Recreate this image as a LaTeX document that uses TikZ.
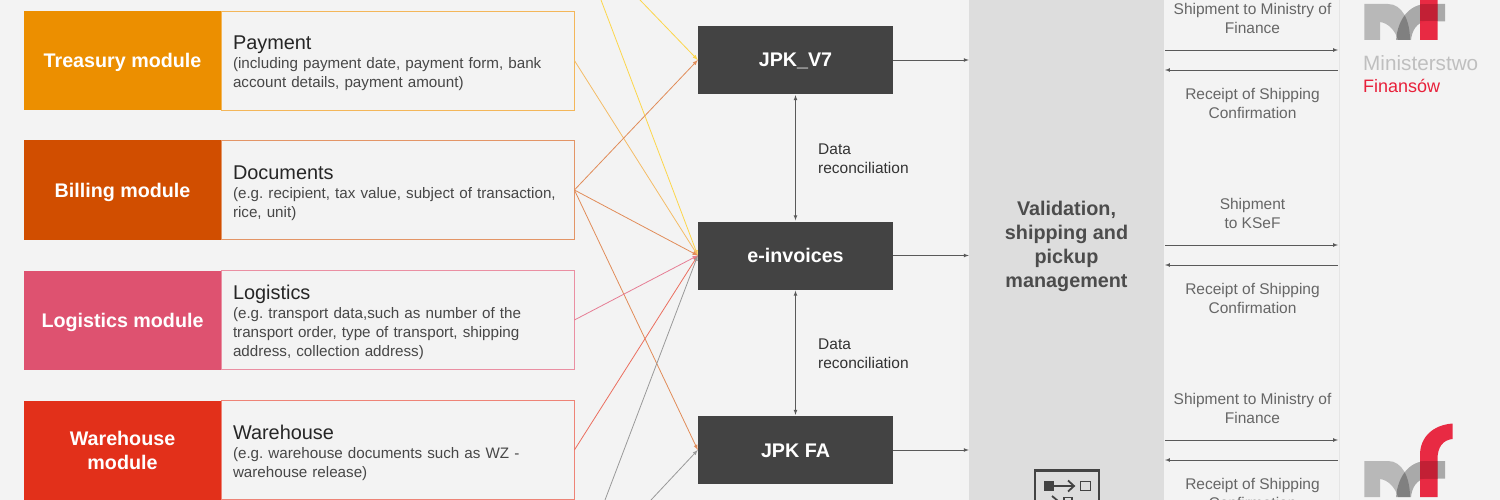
\documentclass[tikz,border=0pt]{standalone}
\usepackage{fontspec}
\setmainfont{Liberation Sans}
\definecolor{pagebg}{HTML}{F3F3F3}
\definecolor{treasurycol}{HTML}{EC8F00}
\definecolor{billingcol}{HTML}{D14E00}
\definecolor{logisticscol}{HTML}{DE5270}
\definecolor{warehousecol}{HTML}{E2301A}
\definecolor{jpkcol}{HTML}{434343}
\definecolor{validcol}{HTML}{DDDDDD}
\definecolor{mfred}{HTML}{E8203A}
\newcommand{\headfont}{\fontsize{19.9}{23}\selectfont\color{black!85}}
\tikzset{
  modbox/.style={minimum width=197pt,minimum height=99pt,inner sep=0pt,align=center,text=white,
    font=\fontsize{19.7}{24}\selectfont\bfseries},
  singleline/.style={text height=14pt,text depth=0pt},
  detbox/.style={minimum width=353pt,minimum height=99pt,inner sep=0pt,line width=0.8pt},
  dettext/.style={text width=329pt,inner sep=0pt,align=left,text=black!72,
    font=\fontsize{15.2}{19}\selectfont\frenchspacing},
  jpkbox/.style={fill=jpkcol,minimum width=195pt,minimum height=68pt,inner sep=0pt,text=white,
    font=\fontsize{19.7}{23}\selectfont\bfseries,singleline},
  sidetext/.style={align=center,text=black!60,inner sep=0pt,font=\fontsize{15.5}{19}\selectfont},
  recon/.style={align=left,anchor=west,inner sep=0pt,text=black!80,font=\fontsize{15.5}{19}\selectfont},
  feed/.style={line width=0.8pt,-latex},
  thinarrow/.style={line width=0.7pt,color=black!65,-latex},
}
\newcommand{\mflogo}[2]{%
  \begin{scope}[shift={(#1,#2)}]
    \fill[black,fill opacity=0.24] (9.3,46) -- (33,46) .. controls (47,46) and (55,62) .. (55,82) -- (43,82)
       .. controls (40,72) and (33,65) .. (25,64) -- (25,82) -- (9.3,82) -- cycle;
    \fill[black,fill opacity=0.3] (41,82) .. controls (43,60) and (55,46) .. (72,46) -- (90,46) -- (90,63.5) -- (70,63.5)
       .. controls (62,65) and (57,72) .. (56,82) -- cycle;
    \fill[mfred,fill opacity=0.95] (65,82) -- (65,40) .. controls (65,22) and (78,10) .. (97.5,8.5) -- (97.5,24)
       .. controls (88,25) and (82.5,32) .. (82.5,44) -- (82.5,82) -- cycle;
    \fill[black,fill opacity=0.15] (65,46) rectangle (82.5,63.5);
  \end{scope}}
\begin{document}
\begin{tikzpicture}[x=1pt,y=-1pt]
    \clip (0,0) rectangle (1500,500);
    \fill[pagebg] (0,0) rectangle (1500,500);
    \node[fill=validcol,minimum width=195pt,minimum height=530pt,inner sep=0pt] (validcolumn) at (1066.5,244) {};
    \node[align=center,inner sep=0pt,text=black!70,font=\fontsize{19.8}{24}\selectfont\bfseries] (validtext) at (1066.5,246)
       {Validation,\\shipping and\\pickup\\management};
    \draw[black!10,line width=0.7pt] (1339,0)--(1339,500);
    % left column
    \node[modbox,singleline,fill=treasurycol] (treasury) at (122.5,60.5) {Treasury module};
    \node[modbox,singleline,fill=billingcol] (billing) at (122.5,190) {Billing module};
    \node[modbox,singleline,fill=logisticscol] (logistics) at (122.5,320) {Logistics module};
    \node[modbox,fill=warehousecol,minimum height=100pt] (warehouse) at (122.5,450.5) {Warehouse\\module};
    \node[detbox,draw=treasurycol!65] (treasurybox) at (397.5,60.5) {};
    \node[detbox,draw=billingcol!60] (billingbox) at (397.5,190) {};
    \node[detbox,draw=logisticscol!65] (logisticsbox) at (397.5,320) {};
    \node[detbox,draw=warehousecol!60] (warehousebox) at (397.5,450) {};
    \node[dettext] (treasurytext) at ([yshift=-3pt]treasurybox.center)
       {{\headfont Payment}\\(including payment date, payment form, bank\\account details, payment amount)};
    \node[dettext] (billingtext) at ([yshift=-3pt]billingbox.center)
       {{\headfont Documents}\\(e.g. recipient, tax value, subject of transaction,\\rice, unit)};
    \node[dettext] (logisticstext) at ([yshift=-2pt]logisticsbox.center)
       {{\headfont Logistics}\\(e.g. transport data,such as number of the\\transport order, type of transport, shipping\\address, collection address)};
    \node[dettext] (warehousetext) at ([yshift=-3pt]warehousebox.center)
       {{\headfont Warehouse}\\(e.g. warehouse documents such as WZ -\\warehouse release)};
    % middle column
    \node[jpkbox] (jpkv) at (795.5,60) {JPK\_V7};
    \node[jpkbox] (einv) at (795.5,255.5) {e-invoices};
    \node[jpkbox] (jpkfa) at (795.5,450) {JPK FA};
    \coordinate (topa) at (601,0);
    \coordinate (topb) at (640,0);
    \coordinate (bota) at (605,500);
    \coordinate (botb) at (651,500);
    \draw[feed,color=yellow!60!orange!70] (topa)--(einv.west);
    \draw[feed,color=yellow!60!orange!70] (topb)--(jpkv.west);
    \draw[feed,color=treasurycol!60] (treasurybox.east)--(einv.west);
    \draw[feed,color=billingcol!65] (billingbox.east)--(jpkv.west);
    \draw[feed,color=billingcol!65] (billingbox.east)--(einv.west);
    \draw[feed,color=billingcol!65] (billingbox.east)--(jpkfa.west);
    \draw[feed,color=logisticscol!75] (logisticsbox.east)--(einv.west);
    \draw[feed,color=warehousecol!70] (warehousebox.east)--(einv.west);
    \draw[feed,color=black!40] (bota)--(einv.west);
    \draw[feed,color=black!40] (botb)--(jpkfa.west);
    \draw[thinarrow,latex-latex,shorten <=1pt,shorten >=1pt] (jpkv.south)--(einv.north);
    \draw[thinarrow,latex-latex,shorten <=1pt,shorten >=1pt] (einv.south)--(jpkfa.north);
    \node[recon] (reconup) at (818,158.5) {Data\\reconciliation};
    \node[recon] (recondown) at (818,353.5) {Data\\reconciliation};
    \draw[thinarrow] (jpkv.east)--(jpkv.east -| validcolumn.west);
    \draw[thinarrow] (einv.east)--(einv.east -| validcolumn.west);
    \draw[thinarrow] (jpkfa.east)--(jpkfa.east -| validcolumn.west);
    % right panel
    \foreach \n/\dy/\sendtext in {a/0/Shipment to Ministry of\\Finance,b/195/Shipment\\to KSeF,c/390/Shipment to Ministry of\\Finance}{
      \begin{scope}[yshift=-\dy pt]
        \node[sidetext] (send\n) at (1252.5,18.5) {\sendtext};
        \node[sidetext] (receipt\n) at (1252.5,103.5) {Receipt of Shipping\\Confirmation};
        \coordinate (sendl\n) at (1165,50);
        \coordinate (sendr\n) at (1338,50);
        \coordinate (backr\n) at (1338,70);
        \coordinate (backl\n) at (1165,70);
        \draw[thinarrow] (sendl\n)--(sendr\n);
        \draw[thinarrow] (backr\n)--(backl\n);
      \end{scope}
    }
    % logos
    \mflogo{1355}{-42}
    \mflogo{1355}{415}
    \node[anchor=west,inner sep=0pt,text=black!25,font=\fontsize{20.7}{23}\selectfont] (ministry) at (1363,63.5) {Ministerstwo};
    \node[anchor=west,inner sep=0pt,text=mfred,font=\fontsize{18}{23}\selectfont] (finance) at (1363,85.5) {Finansów};
    % icon
    \draw[jpkcol,line width=2.2pt] (1035,510) |- (1099,470.5) -- (1099,510);
    \fill[jpkcol] (1044,481) rectangle (1053.5,491);
    \draw[jpkcol,line width=1.8pt] (1053,486)--(1073,486);
    \draw[jpkcol,line width=1.8pt] (1068,480.5)--(1074,486)--(1068,491.5);
    \draw[jpkcol,line width=1.8pt] (1080.5,481.5) rectangle (1090.5,490.5);
    \draw[jpkcol,line width=1.8pt] (1052,496)--(1058,501);
    \draw[jpkcol,line width=1.8pt] (1064,497.5) rectangle (1072,506);
\end{tikzpicture}
\end{document}
